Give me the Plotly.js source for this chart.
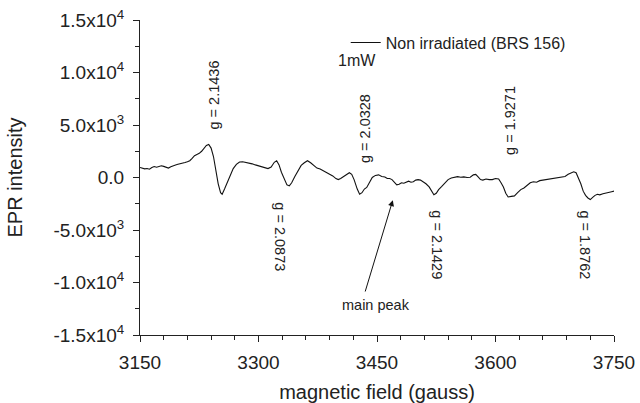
<!DOCTYPE html>
<html>
<head>
<meta charset="utf-8">
<script src="https://cdn.plot.ly/plotly-3.0.1.min.js"></script>
<style>html,body{margin:0;padding:0;background:#fff;}#chart{width:640px;height:403px;}</style>
</head>
<body>
<div id="chart"></div>
<script>
// magnetic field (gauss)
const field = [3150,3153,3156,3159,3162,3165,3168,3171,3174,3177,3180,3183,3186,3189,3192,3195,3198,3201,3204,3207,3210,3213,3216,3219,3222,3225,3228,3231,3234,3237,3240,3243,3246,3249,3252,3254,3257,3260,3264,3268,3272,3276,3280,3284,3288,3292,3296,3300,3304,3308,3312,3316,3320,3323,3326,3329,3333,3336,3339,3342,3346,3350,3354,3358,3362,3366,3370,3374,3378,3382,3386,3390,3394,3398,3401,3404,3408,3412,3415,3418,3421,3425,3428,3431,3434,3437,3440,3444,3448,3452,3456,3460,3463,3466,3469,3472,3475,3478,3481,3484,3487,3490,3493,3496,3499,3502,3505,3508,3512,3516,3519,3522,3525,3528,3532,3536,3540,3544,3548,3552,3556,3560,3564,3568,3572,3575,3578,3581,3584,3588,3592,3596,3600,3604,3607,3610,3613,3616,3620,3624,3628,3632,3636,3640,3644,3648,3652,3656,3660,3664,3668,3672,3676,3680,3684,3688,3692,3696,3699,3702,3705,3708,3711,3714,3717,3720,3723,3726,3729,3732,3736,3740,3744,3747,3750];
// EPR intensity
const intensity = [950,900,820,850,790,950,1050,980,1050,1120,1060,1000,900,1020,1150,1200,1260,1300,1350,1420,1500,1600,1820,2080,2200,2300,2500,2800,3050,3150,2800,2000,600,-600,-1450,-1600,-1100,-550,200,850,1250,1480,1500,1450,1350,1300,1200,1100,1050,950,850,1000,1450,1600,1200,500,-300,-700,-800,-500,100,700,1150,1400,1600,1400,1100,900,800,650,500,350,150,-100,-200,-100,100,350,450,300,-200,-1100,-1600,-1450,-1100,-950,-500,0,200,250,100,50,-100,-100,-200,-500,-700,-650,-500,-550,-450,-350,-450,-400,-250,-200,-250,-400,-600,-900,-1300,-1650,-1500,-1150,-850,-550,-200,-50,50,80,20,60,0,20,250,300,50,-200,-250,-150,-200,-200,-100,-150,-500,-900,-1500,-1850,-1800,-1750,-1450,-1150,-1000,-750,-500,-400,-450,-300,-250,-200,-150,-80,-50,0,50,100,300,400,550,450,0,-600,-1300,-1700,-1950,-2100,-1900,-1700,-1600,-1650,-1550,-1500,-1400,-1350,-1300];

const seriesName = "Non irradiated (BRS 156)";
const powerLabel = "1mW";

const xTicks = [3150,3300,3450,3600,3750];
const yTicks = [-15000,-10000,-5000,0,5000,10000,15000];
const yTickText = ["-1.5x10<sup>4</sup>","-1.0x10<sup>4</sup>","-5.0x10<sup>3</sup>","0.0","5.0x10<sup>3</sup>","1.0x10<sup>4</sup>","1.5x10<sup>4</sup>"];

// g-value labels
const gLabelField = [3244, 3434.5, 3618, 3327, 3525.8, 3713];
const gLabelInt = [7835, 4690, 5455, -5683, -6445, -6445];
const gLabelText = ["g = 2.1436","g = 2.0328","g = 1.9271","g = 2.0873","g = 2.1429","g = 1.8762"];
const gLabelAngle = [-90,-90,-90,90,90,90];

const mainPeakText = "main peak";
const mainPeakTip = [3470, -2160];
const mainPeakTail = [3434.5, -11000];
const mainPeakLabel = [3449, -12150];

const FONT = "Liberation Sans, Arial, sans-serif";
const TXT = "#222";

const traces = [
  {x: field, y: intensity, type: "scatter", mode: "lines", name: seriesName,
   line: {color: "#111", width: 1.1}, hoverinfo: "skip"}
];

const annotations = gLabelText.map((t, i) => ({
  x: gLabelField[i], y: gLabelInt[i], xref: "x", yref: "y", text: t,
  textangle: gLabelAngle[i], showarrow: false,
  font: {family: FONT, size: 14.5, color: TXT}
}));
annotations.push({
  x: mainPeakLabel[0], y: mainPeakLabel[1], xref: "x", yref: "y", text: mainPeakText,
  showarrow: false, font: {family: FONT, size: 14.5, color: TXT}
});
annotations.push({
  x: mainPeakTip[0], y: mainPeakTip[1], xref: "x", yref: "y",
  ax: mainPeakTail[0], ay: mainPeakTail[1], axref: "x", ayref: "y",
  text: "", showarrow: true, arrowhead: 2, arrowsize: 1.2, arrowwidth: 1, arrowcolor: "#111"
});
annotations.push({
  x: 3424.4, y: 11167, xref: "x", yref: "y", text: powerLabel, showarrow: false,
  font: {family: FONT, size: 16, color: TXT}
});

const layout = {
  width: 640, height: 403,
  margin: {l: 140, r: 26, t: 20, b: 68},
  paper_bgcolor: "#fff", plot_bgcolor: "#fff",
  font: {family: FONT, color: TXT},
  showlegend: true,
  legend: {x: 0.434, y: 0.982, xanchor: "left", yanchor: "top", bgcolor: "rgba(0,0,0,0)",
           font: {family: FONT, size: 16, color: TXT}, borderwidth: 0},
  xaxis: {
    range: [3150, 3750], tickvals: xTicks, ticktext: xTicks.map(String),
    ticks: "outside", ticklen: 6, tickwidth: 1, tickcolor: "#222",
    showline: true, linecolor: "#222", linewidth: 1, showgrid: false, zeroline: false,
    tickfont: {family: FONT, size: 19, color: TXT}, ticklabelstandoff: 4,
    minor: {dtick: 30, tick0: 3150, ticks: "outside", ticklen: 4, tickcolor: "#222", showgrid: false},
    title: {text: "magnetic field (gauss)", font: {family: FONT, size: 20, color: TXT}, standoff: 14}
  },
  yaxis: {
    range: [-15000, 15000], tickvals: yTicks, ticktext: yTickText,
    ticks: "outside", ticklen: 6, tickwidth: 1, tickcolor: "#222",
    showline: true, linecolor: "#222", linewidth: 1, showgrid: false, zeroline: false,
    tickfont: {family: FONT, size: 19, color: TXT}, ticklabelstandoff: 5,
    minor: {dtick: 2500, tick0: 0, ticks: "outside", ticklen: 4, tickcolor: "#222", showgrid: false},
    title: {text: "EPR intensity", font: {family: FONT, size: 20, color: TXT}, standoff: 25}
  },
  xaxis2: {
    overlaying: "x", side: "top", matches: "x", range: [3150, 3750], tickvals: xTicks,
    showticklabels: false, ticks: "inside", ticklen: 6, tickcolor: "#222",
    showline: true, linecolor: "#222", linewidth: 1, showgrid: false, zeroline: false,
    minor: {dtick: 30, tick0: 3150, ticks: "inside", ticklen: 4, tickcolor: "#222", showgrid: false}
  },
  yaxis2: {
    overlaying: "y", side: "right", range: [-15000, 15000], tickvals: yTicks,
    showticklabels: false, ticks: "inside", ticklen: 6, tickcolor: "#222",
    showline: true, linecolor: "#222", linewidth: 1, showgrid: false, zeroline: false,
    minor: {dtick: 2500, tick0: 0, ticks: "inside", ticklen: 4, tickcolor: "#222", showgrid: false}
  },
  annotations: annotations
};

Plotly.newPlot("chart", traces, layout, {staticPlot: true, displayModeBar: false});
</script>
</body>
</html>
